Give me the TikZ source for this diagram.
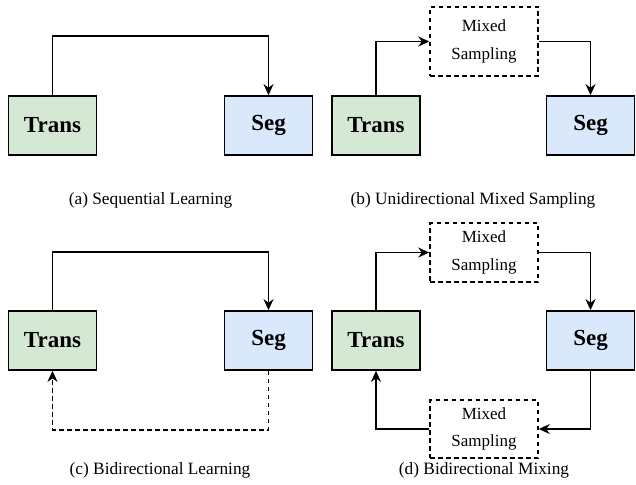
\documentclass[tikz,border=0pt]{standalone}
\usepackage{fontspec}
\setmainfont{Liberation Serif}
\usetikzlibrary{arrows.meta}
\definecolor{tgreen}{HTML}{D5E8D4}
\definecolor{sblue}{HTML}{DAE8FC}
\tikzset{
  blk/.style={draw=black, line width=1.7pt, minimum width=88pt, minimum height=59pt, inner sep=0pt, font=\fontsize{23}{26}\selectfont\bfseries},
  transbox/.style={blk, fill=tgreen},
  segbox/.style={blk, fill=sblue},
  mixbox/.style={draw=black, line width=1.5pt, dash pattern=on 4.5pt off 3.5pt, minimum width=108pt, inner sep=0pt, align=center, font=\fontsize{17}{27.5}\selectfont},
  arr/.style={line width=1.6pt, -{Stealth[length=11pt,width=10pt,inset=3.5pt]}},
  darr/.style={arr, dash pattern=on 4.5pt off 3.5pt},
  captext/.style={font=\fontsize{17.3}{20}\selectfont, inner sep=0pt}
}
\begin{document}
\begin{tikzpicture}[x=1pt,y=-1pt]
\useasboundingbox (0,0) rectangle (636,484);
% (a)
\node[transbox] (ta) at (52.5,125.5) {Trans};
\node[segbox] (sa) at (268.5,125.5) {Seg};
\draw[arr] (ta.north) -- ++(0,-59) -| (sa.north);
\node[captext] (capa) at (150.5,200) {(a) Sequential Learning};
% (b)
\node[transbox] (tb) at (376,125.5) {Trans};
\node[segbox] (sb) at (590.5,125.5) {Seg};
\node[mixbox, minimum height=69pt] (mb) at (484,41.5) {Mixed\\Sampling};
\draw[arr] (tb.north) |- (mb.west);
\draw[arr] (mb.east) -| (sb.north);
\node[captext] (capb) at (473,200) {(b) Unidirectional Mixed Sampling};
% (c)
\node[transbox] (tc) at (52.5,340.5) {Trans};
\node[segbox] (sc) at (268.5,340.5) {Seg};
\draw[arr] (tc.north) -- ++(0,-58) -| (sc.north);
\draw[darr] (sc.south) -- ++(0,59) -| (tc.south);
\node[captext] (capc) at (160,470) {(c) Bidirectional Learning};
% (d)
\node[transbox] (td) at (376,340.5) {Trans};
\node[segbox] (sd) at (590.5,340.5) {Seg};
\node[mixbox, minimum height=59pt] (md1) at (484,252.5) {Mixed\\Sampling};
\node[mixbox, minimum height=58pt] (md2) at (484,429) {Mixed\\Sampling};
\draw[arr] (td.north) |- (md1.west);
\draw[arr] (md1.east) -| (sd.north);
\draw[arr] (sd.south) |- (md2.east);
\draw[arr] (md2.west) -| (td.south);
\node[captext] (capd) at (484,470) {(d) Bidirectional Mixing};
\end{tikzpicture}
\end{document}
